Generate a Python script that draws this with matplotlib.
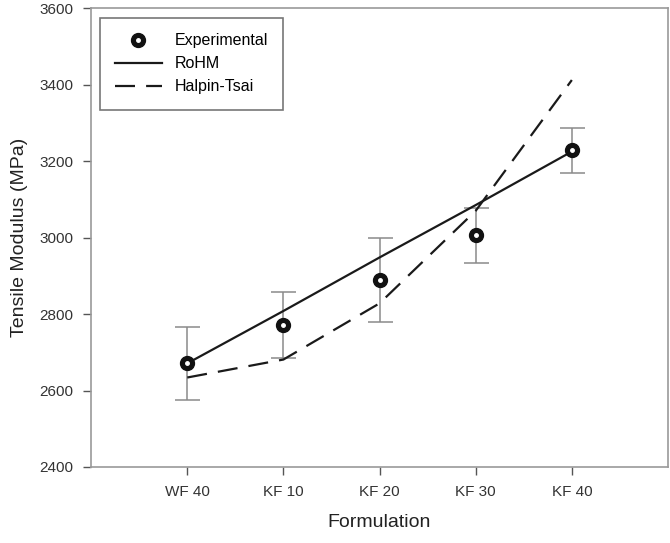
import numpy as np
import matplotlib.pyplot as plt
from matplotlib.legend_handler import HandlerTuple

plt.rcParams['font.family'] = ['Liberation Sans', 'DejaVu Sans']

formulations = ['WF 40', 'KF 10', 'KF 20', 'KF 30', 'KF 40']
experimental = [2671, 2771, 2889, 3006, 3228]
exp_err = [95, 86, 109, 72, 58]
rohm = [2671, 2808, 2948, 3085, 3225]
halpin_tsai = [2634, 2681, 2828, 3070, 3412]


def plot():
    x = np.arange(len(formulations))
    fig = plt.figure(figsize=[6.7, 5.43], dpi=100)
    ax = plt.axes([0.136, 0.140, 0.861, 0.845])

    ax.errorbar(x, experimental, yerr=exp_err, fmt='none', ecolor='#8a8a8a',
                elinewidth=1.1, capsize=9, capthick=1.1, zorder=2)
    l_rohm, = ax.plot(x, rohm, '-', color='#1a1a1a', lw=1.6, zorder=3)
    l_ht, = ax.plot(x, halpin_tsai, '--', color='#1a1a1a', lw=1.6, dashes=(9, 5), zorder=3)
    m_out, = ax.plot(x, experimental, 'o', color='#111111', ms=10, zorder=4)
    m_in, = ax.plot(x, experimental, 'o', color='white', ms=2.5, zorder=5)

    ax.set_xlim(-1, 5)
    ax.set_ylim(2400, 3600)
    ax.set_xticks(x)
    ax.set_xticklabels(formulations)
    ax.set_yticks(np.arange(2400, 3601, 200))
    ax.set_xlabel('Formulation', fontsize=14, color='#222222', labelpad=11)
    ax.set_ylabel('Tensile Modulus (MPa)', fontsize=14, color='#222222', labelpad=8)
    ax.tick_params(axis='both', labelsize=11, labelcolor='#333333', direction='out',
                   length=6, width=1, color='#555555', top=False, right=False, pad=7)
    for d in ['top', 'bottom', 'left', 'right']:
        ax.spines[d].set_color('#999999')
        ax.spines[d].set_linewidth(1.2)

    leg = ax.legend([(m_out, m_in), l_rohm, l_ht],
                    ['Experimental', 'RoHM', 'Halpin-Tsai'],
                    handler_map={tuple: HandlerTuple(ndivide=1, pad=0)},
                    loc='upper left', bbox_to_anchor=(0.0156, 0.978),
                    fontsize=11.5, fancybox=False, framealpha=1,
                    edgecolor='#777777', handlelength=2.9, handletextpad=0.8,
                    borderpad=0.95, labelspacing=0.5, borderaxespad=0)
    leg.get_frame().set_linewidth(1.2)

    plt.savefig('out.png', dpi=100)
    plt.close()


plot()
